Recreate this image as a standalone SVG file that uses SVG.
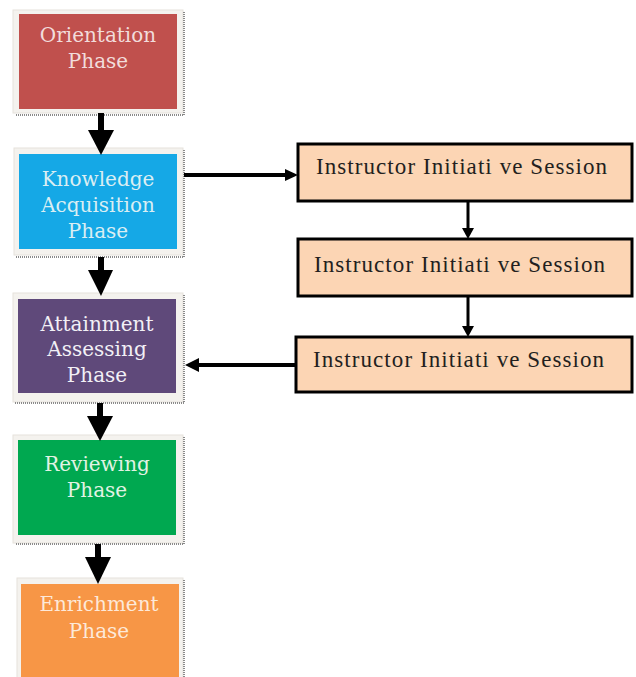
<svg xmlns="http://www.w3.org/2000/svg" width="636" height="677" viewBox="0 0 636 677">
<style>
.mat{fill:#f4f2ee;stroke:#e6e2dc;stroke-width:1}
.shadow{fill:none;stroke:#8a8a8a;stroke-width:2;stroke-dasharray:1 1}
.ph{font-family:"DejaVu Serif","Liberation Serif",serif;font-size:20px;text-anchor:middle}
.ses{fill:#fcd5b4;stroke:#000;stroke-width:3}
.st{font-family:"Liberation Serif",serif;font-size:23px;fill:#231f20}
.shaft{stroke:#000;fill:none}
</style>
<rect width="636" height="677" fill="#fff"/>
<g id="orientation">
<rect class="mat" x="13" y="10" width="170" height="103"/>
<path class="shadow" d="M184 12 V115 H15"/>
<rect x="19" y="14" width="158" height="95" fill="#c0504d"/>
<text class="ph" fill="#f2dcdb" x="98" y="42">Orientation</text>
<text class="ph" fill="#f2dcdb" x="98" y="68">Phase</text>
</g>
<g id="knowledge">
<rect class="mat" x="14" y="148" width="169" height="107"/>
<path class="shadow" d="M184 150 V257 H16"/>
<rect x="19" y="154" width="158" height="95" fill="#15a8e6"/>
<text class="ph" fill="#daeef3" x="98" y="186">Knowledge</text>
<text class="ph" fill="#daeef3" x="98" y="212">Acquisition</text>
<text class="ph" fill="#daeef3" x="98" y="238">Phase</text>
</g>
<g id="attainment">
<rect class="mat" x="13" y="293" width="170" height="109"/>
<path class="shadow" d="M184 295 V403 H15"/>
<rect x="18" y="299" width="158" height="94" fill="#5f497a"/>
<text class="ph" fill="#f2f0f6" x="97" y="331">Attainment</text>
<text class="ph" fill="#f2f0f6" x="97" y="356">Assessing</text>
<text class="ph" fill="#f2f0f6" x="97" y="382">Phase</text>
</g>
<g id="reviewing">
<rect class="mat" x="13" y="435" width="170" height="108"/>
<path class="shadow" d="M184 437 V544 H15"/>
<rect x="18" y="440" width="158" height="95" fill="#00a850"/>
<text class="ph" fill="#e2f3e4" x="97" y="471">Reviewing</text>
<text class="ph" fill="#e2f3e4" x="97" y="497">Phase</text>
</g>
<g id="enrichment">
<rect class="mat" x="17" y="578" width="166" height="110"/>
<path class="shadow" d="M184 580 V677"/>
<rect x="21" y="584" width="158" height="100" fill="#f79646"/>
<text class="ph" fill="#fde9d9" x="99" y="611">Enrichment</text>
<text class="ph" fill="#fde9d9" x="99" y="638">Phase</text>
</g>
<g id="session1">
<rect class="ses" x="298" y="144" width="334" height="57"/>
<text class="st" x="316" y="174" textLength="291" lengthAdjust="spacing">Instructor Initiati ve Session</text>
</g>
<g id="session2">
<rect class="ses" x="298" y="239" width="334" height="57"/>
<text class="st" x="314" y="272" textLength="291" lengthAdjust="spacing">Instructor Initiati ve Session</text>
</g>
<g id="session3">
<rect class="ses" x="296" y="337" width="336" height="55"/>
<text class="st" x="313" y="367" textLength="291" lengthAdjust="spacing">Instructor Initiati ve Session</text>
</g>
<g id="connectors">
<path class="shaft" stroke-width="6" d="M101 113 V132"/>
<polygon points="88,130 114,130 101,155"/>
<path class="shaft" stroke-width="6" d="M101 257 V272"/>
<polygon points="88,270 113,270 101,296"/>
<path class="shaft" stroke-width="6" d="M100 403 V418"/>
<polygon points="87,416 113,416 100,441"/>
<path class="shaft" stroke-width="6" d="M98 544 V559"/>
<polygon points="85,557 111,557 98,584"/>
<path class="shaft" stroke-width="4" d="M184 175 H288"/>
<polygon points="285,169 298,175 285,181"/>
<path class="shaft" stroke-width="4" d="M296 365 H196"/>
<polygon points="199,358 185,365 199,372"/>
<path class="shaft" stroke-width="3" d="M468 201 V230"/>
<polygon points="462,228 474,228 468,239"/>
<path class="shaft" stroke-width="3" d="M468 296 V328"/>
<polygon points="462,326 474,326 468,337"/>
</g>
</svg>
